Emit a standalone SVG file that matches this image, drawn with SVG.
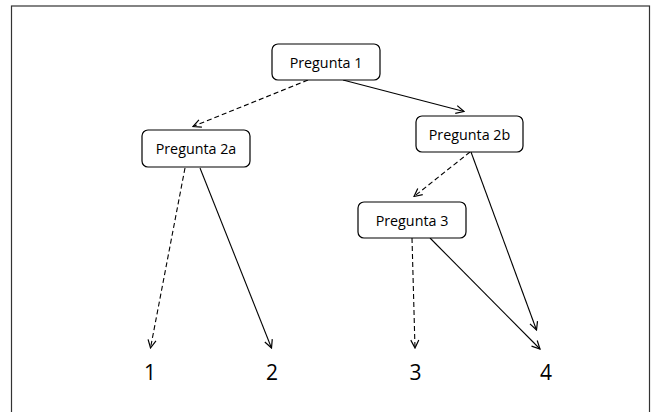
<svg xmlns="http://www.w3.org/2000/svg" width="651" height="412" viewBox="0 0 651 412">
<defs>
<marker id="arr" viewBox="0 0 10 10" refX="9" refY="5" markerWidth="10" markerHeight="10" markerUnits="userSpaceOnUse" orient="auto">
<path d="M1,1 L9,5 L1,9" fill="none" stroke="#000" stroke-width="1.2"/>
</marker>
<style>
.box{fill:#fff;stroke:#000;stroke-width:1.2}
.lbl{font-family:"Open Sans","Noto Sans",sans-serif;font-size:14.3px;text-anchor:middle;fill:#000}
.leaf{font-family:"Open Sans","Noto Sans",sans-serif;font-size:21px;text-anchor:middle;fill:#000}
.e{fill:none;stroke:#000;stroke-width:1.1;marker-end:url(#arr)}
.d{stroke-dasharray:5,3}
</style>
</defs>
<rect x="0" y="0" width="651" height="412" fill="#fff"/>
<rect x="11.5" y="6" width="638" height="420" fill="none" stroke="#333" stroke-width="1.2"/>
<g id="connectors">
<line class="e d" x1="308" y1="80" x2="193" y2="126.5"/>
<line class="e" x1="343" y1="80" x2="464" y2="111.5"/>
<line class="e d" x1="185" y1="168" x2="150.5" y2="348"/>
<line class="e" x1="200" y1="168" x2="271.5" y2="348"/>
<line class="e d" x1="470" y1="152" x2="414" y2="196.5"/>
<line class="e" x1="471" y1="152" x2="536.5" y2="330"/>
<line class="e d" x1="412" y1="238" x2="415" y2="348"/>
<line class="e" x1="430" y1="238" x2="540" y2="349"/>
</g>
<g id="n1"><rect class="box" x="272" y="44" width="108" height="36" rx="6"/><text class="lbl" x="326" y="68">Pregunta 1</text></g>
<g id="n2a"><rect class="box" x="142" y="130" width="108" height="37" rx="6"/><text class="lbl" x="196" y="154">Pregunta 2a</text></g>
<g id="n2b"><rect class="box" x="416" y="116" width="107" height="36" rx="6"/><text class="lbl" x="469.5" y="140">Pregunta 2b</text></g>
<g id="n3"><rect class="box" x="358" y="202" width="108" height="36" rx="6"/><text class="lbl" x="412" y="226">Pregunta 3</text></g>
<g id="l1"><text class="leaf" x="150" y="380">1</text></g>
<g id="l2"><text class="leaf" x="272" y="380">2</text></g>
<g id="l3"><text class="leaf" x="415.5" y="380">3</text></g>
<g id="l4"><text class="leaf" x="546" y="380">4</text></g>
</svg>
